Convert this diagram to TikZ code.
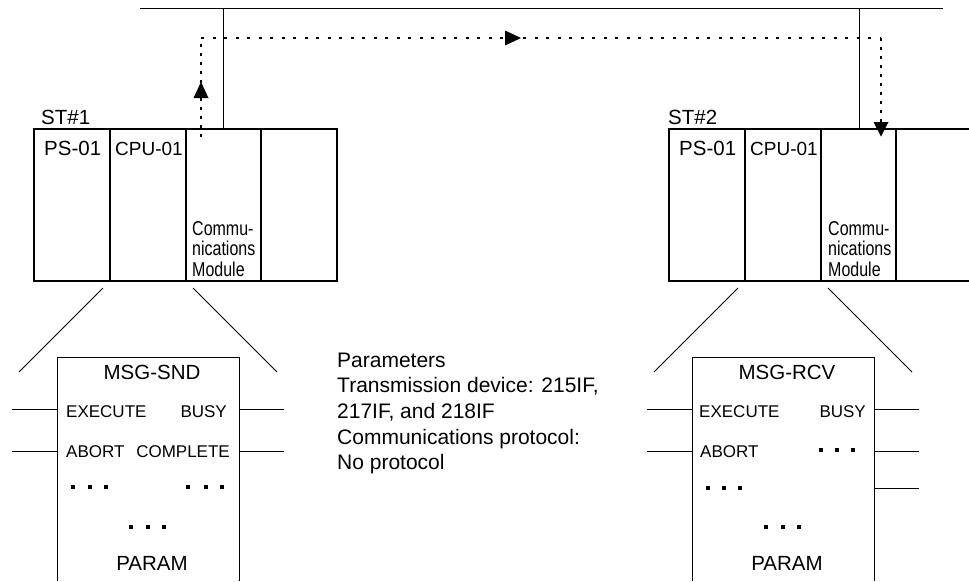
\documentclass[tikz,border=0pt]{standalone}
\usepackage{fontspec}
\setmainfont{Liberation Sans}
\newfontfamily\narrowfont[FakeStretch=0.8]{Liberation Sans}
\begin{document}
\begin{tikzpicture}[x=1pt,y=-1pt,
  ln/.style={line width=1pt},
  rk/.style={line width=1.2pt},
  dotl/.style={line width=1.8pt,dash pattern=on 3pt off 8.5pt},
  dotv/.style={line width=1.8pt,dash pattern=on 3pt off 6pt},
  ahead/.style={fill=black,draw=none},
  bigtext/.style={inner sep=0pt,font=\fontsize{20.5}{24}\selectfont},
  cputext/.style={inner sep=0pt,font=\fontsize{19}{24}\selectfont},
  pintext/.style={inner sep=0pt,font=\fontsize{17}{20}\selectfont},
  commtext/.style={inner sep=0pt,font=\narrowfont\fontsize{20}{20}\selectfont},
  partext/.style={inner sep=0pt,anchor=base west,font=\fontsize{21}{24}\selectfont},
  sqdot/.style={fill=black,draw=none,minimum size=3.5pt,inner sep=0pt}]
\useasboundingbox (0,0) rectangle (969,581);
% bus
\coordinate (busL) at (140,8);
\coordinate (busR) at (943,8);
\draw[ln] (busL) -- (busR);
\coordinate (d1t) at (223,8); \coordinate (d1b) at (223,129);
\coordinate (d2t) at (859,8); \coordinate (d2b) at (859,129);
\draw[ln] (d1t) -- (d1b);
\draw[ln] (d2t) -- (d2b);
% dotted path
\coordinate (p0) at (201,137);
\coordinate (p1) at (201,38);
\coordinate (p2) at (881,38);
\coordinate (p3) at (881,130);
\draw[dotv] (p0) -- (p1);
\draw[dotl] (p1) -- (p2);
\draw[dotv] (p2) -- (p3);
\fill[ahead] (201,82) -- (193.5,98) -- (208.5,98) -- cycle;
\fill[ahead] (521,38) -- (505,30.5) -- (505,45.5) -- cycle;
\fill[ahead] (881,136.5) -- (873.5,122) -- (888.5,122) -- cycle;
% rack ST#1
\draw[rk] (34,129) rectangle (337,281);
\draw[rk] (110,129) -- (110,281) (186,129) -- (186,281) (261,129) -- (261,281);
\node[bigtext,anchor=base west] (st1) at (41,124) {ST\#1};
\node[bigtext,anchor=base west] (ps1) at (44,155) {PS-01};
\node[cputext,anchor=base west] (cpu1) at (115,155) {CPU-01};
\node[commtext,anchor=base west] (cm1a) at (192,235) {Commu-};
\node[commtext,anchor=base west] (cm1b) at (192,255.5) {nications};
\node[commtext,anchor=base west] (cm1c) at (192,276) {Module};
% rack ST#2
\draw[rk] (969,129) -- (669,129) -- (669,281) -- (969,281);
\draw[rk] (745,129) -- (745,281) (821,129) -- (821,281) (896,129) -- (896,281);
\node[bigtext,anchor=base west] (st2) at (668,124) {ST\#2};
\node[bigtext,anchor=base west] (ps2) at (679,155) {PS-01};
\node[cputext,anchor=base west] (cpu2) at (750,155) {CPU-01};
\node[commtext,anchor=base west] (cm2a) at (828,235) {Commu-};
\node[commtext,anchor=base west] (cm2b) at (828,255.5) {nications};
\node[commtext,anchor=base west] (cm2c) at (828,276) {Module};
% zoom lines
\draw[ln] (103,288) -- (19,372);
\draw[ln] (193,288) -- (277,372);
\draw[ln] (738,288) -- (654,372);
\draw[ln] (828,288) -- (912,372);
% MSG-SND block
\draw[ln] (57,581) -- (57,357) -- (239,357) -- (239,581);
\draw[ln] (12,409) -- (57,409) (12,451) -- (57,451);
\draw[ln] (239,409) -- (284,409) (239,451) -- (284,451);
\node[bigtext,anchor=base] (snd) at (152,379) {MSG-SND};
\node[pintext,anchor=base west] (sex) at (66,417) {EXECUTE};
\node[pintext,anchor=base east] (sbu) at (227,417) {BUSY};
\node[pintext,anchor=base west] (sab) at (66,457) {ABORT};
\node[pintext,anchor=base east] (sco) at (230,457) {COMPLETE};
\foreach \x in {73,90,106} \node[sqdot] at (\x,487) {};
\foreach \x in {188,206,222} \node[sqdot] at (\x,487) {};
\foreach \x in {131,148,164} \node[sqdot] at (\x,527) {};
\node[bigtext,anchor=base] (spa) at (152,570) {PARAM};
% MSG-RCV block
\draw[ln] (692,581) -- (692,357) -- (874,357) -- (874,581);
\draw[ln] (647,409) -- (692,409) (647,451) -- (692,451);
\draw[ln] (874,409) -- (919,409) (874,451) -- (919,451) (874,488) -- (919,488);
\node[bigtext,anchor=base] (rcv) at (787,379) {MSG-RCV};
\node[pintext,anchor=base west] (rex) at (699,417) {EXECUTE};
\node[pintext,anchor=base east] (rbu) at (866,417) {BUSY};
\node[pintext,anchor=base west] (rab) at (700,457) {ABORT};
\foreach \x in {821,837,853} \node[sqdot] at (\x,450) {};
\foreach \x in {708,724,740} \node[sqdot] at (\x,488) {};
\foreach \x in {766,783,799} \node[sqdot] at (\x,527) {};
\node[bigtext,anchor=base] (rpa) at (787,570) {PARAM};
% parameters text
\node[partext] (t1) at (337,367) {Parameters};
\node[partext] (t2) at (337,392.5) {Transmission device: 215IF,};
\node[partext] (t3) at (337,418) {217IF, and 218IF};
\node[partext] (t4) at (337,444) {Communications protocol:};
\node[partext] (t5) at (337,469.5) {No protocol};
\end{tikzpicture}
\end{document}
